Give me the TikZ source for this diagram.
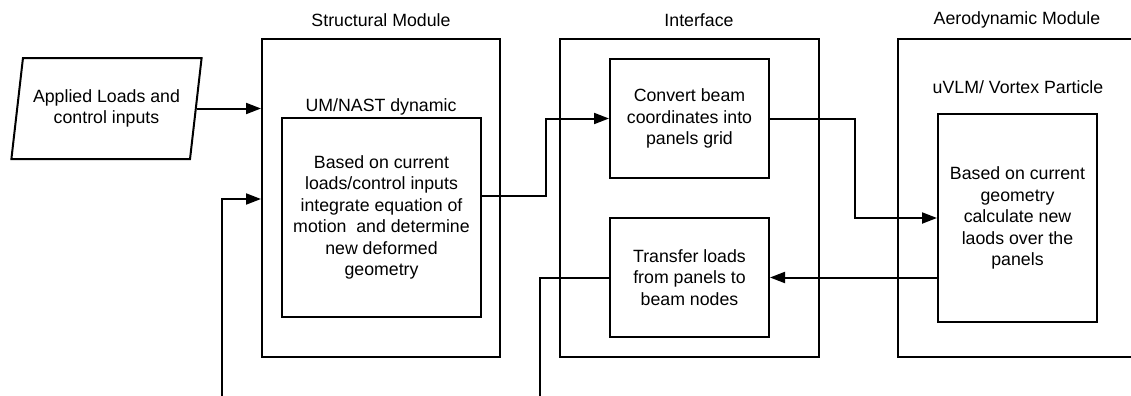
\documentclass[tikz,border=0pt]{standalone}
\usepackage{fontspec}
\setmainfont{Liberation Sans}
\usetikzlibrary{arrows.meta,shapes.geometric}
\begin{document}
\begin{tikzpicture}[x=0.5pt,y=-0.5pt,line width=1pt,
    font=\fontsize{8.87}{10.75}\selectfont,
    box/.style={draw,rectangle,inner sep=0pt,align=center},
    arr/.style={-{Triangle[length=7.5pt,width=5.5pt]}}]
    \clip (0,0) rectangle (1131,396);
    \path (381,20) node (structtitle) {Structural Module};
    \path (699,20) node (ifacetitle) {Interface};
    \path (1017,20) node (aerotitle) {Aerodynamic Module};
    \path (381,198) node[box,minimum width=119pt,minimum height=159pt] (struct) {};
    \path (689.5,198) node[box,minimum width=129.5pt,minimum height=159pt] (iface) {};
    \path (1030,198) node[box,minimum width=132pt,minimum height=159pt] (aero) {};
    \path (381,107) node (umtitle) {UM/NAST dynamic};
    \path (1018,87) node (vortextitle) {uVLM/ Vortex Particle};
    \path (381.5,217.5) node[box,minimum width=99.5pt,minimum height=99.5pt] (umnast)
        {Based on current\\loads/control inputs\\integrate equation of\\motion\ \ and determine\\new deformed\\geometry};
    \path (689.5,118.5) node[box,minimum width=79.5pt,minimum height=59.5pt] (convert)
        {Convert beam\\coordinates into\\panels grid};
    \path (689.5,277.5) node[box,minimum width=79.5pt,minimum height=59.5pt] (transfer)
        {Transfer loads\\from panels to\\beam nodes};
    \path (1017.5,218) node[box,minimum width=79.5pt,minimum height=104pt] (aeroin)
        {Based on current\\geometry\\calculate new\\laods over the\\panels};
    \path (106.5,108.5) node[draw,trapezium,trapezium left angle=75,trapezium right angle=105,
        trapezium stretches=true,minimum width=95.5pt,minimum height=50.5pt,inner sep=0pt,align=center] (loads)
        {Applied Loads and\\control inputs};
    \coordinate (fbin) at (222,396);
    \coordinate (fbbend) at (222,199);
    \coordinate (umout) at (481,196);
    \coordinate (fbout) at (540,396);
    \draw [arr] (loads.east) -- (loads.east -| struct.west);
    \draw [arr] (fbin) -- (fbbend) -- (fbbend -| struct.west);
    \draw [arr] (umout) -- ++(65,0) |- (convert.west);
    \draw [arr] (convert.east) -- ++(85,0) |- (aeroin.west);
    \draw [arr] (aeroin.west |- transfer.east) -- (transfer.east);
    \draw (transfer.west) -| (fbout);
\end{tikzpicture}
\end{document}
